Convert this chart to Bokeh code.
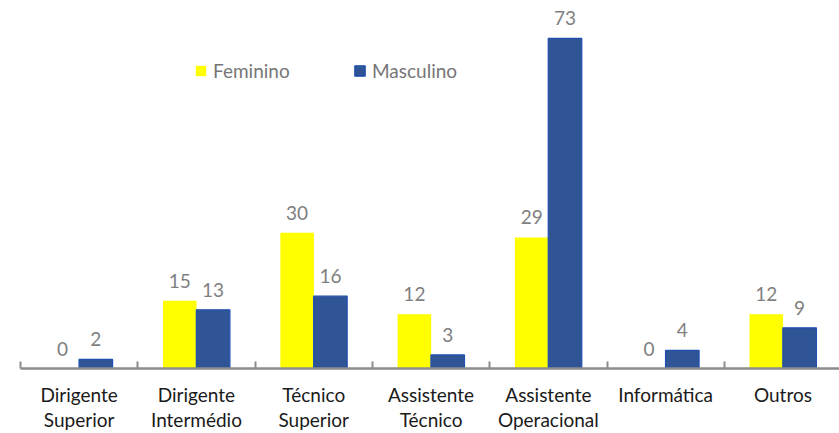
from bokeh.plotting import figure
from bokeh.models import (ColumnDataSource, Range1d, FixedTicker, Legend, LegendItem, LabelSet)
from bokeh.core.properties import value
from bokeh.embed import file_html
from bokeh.resources import INLINE

categories = ["Dirigente\nSuperior", "Dirigente\nIntermédio", "Técnico\nSuperior",
              "Assistente\nTécnico", "Assistente\nOperacional", "Informática", "Outros"]
feminino = [0, 15, 30, 12, 29, 0, 12]
masculino = [2, 13, 16, 3, 73, 4, 9]

FONT = "Lato"
W, H = 839, 433
LEFT = 20
PX_PER_CAT = 117.3
BASE_Y = 368
PX_PER_UNIT = 4.521
BAR_W = 0.286
OFF = 0.142

n = len(categories)
centers = [i + 0.5 for i in range(n)]
bounds = [float(i) for i in range(n + 1)]

p = figure(width=W, height=H, output_backend="svg", toolbar_location=None,
           x_range=Range1d(0, (W - LEFT) / PX_PER_CAT),
           y_range=Range1d(0, BASE_Y / PX_PER_UNIT),
           min_border_left=LEFT, min_border_right=0, min_border_top=0,
           min_border_bottom=H - BASE_Y)
p.outline_line_color = None
p.xgrid.visible = False
p.ygrid.visible = False
p.yaxis.visible = False
p.background_fill_color = "white"
p.border_fill_color = "white"

src = ColumnDataSource(dict(
    xf=[c - OFF for c in centers], xm=[c + OFF for c in centers],
    f=feminino, m=masculino,
    ft=[str(v) for v in feminino], mt=[str(v) for v in masculino]))

rf = p.vbar(x="xf", top="f", width=BAR_W, source=src, fill_color="#FFFF00", line_color=None)
rm = p.vbar(x="xm", top="m", width=BAR_W, source=src, fill_color="#2F5597",
            line_color="#1F4FB0", line_width=1.2)

for xcol, ycol, tcol in (("xf", "f", "ft"), ("xm", "m", "mt")):
    p.add_layout(LabelSet(x=xcol, y=ycol, text=tcol, source=src, text_align="center",
                          text_baseline="alphabetic", y_offset=13, text_font=value(FONT),
                          text_font_size=value("19px"), text_color="#7F7F7F"))

ax = p.xaxis[0]
ax.ticker = FixedTicker(ticks=centers, minor_ticks=bounds)
ax.major_label_overrides = {c: lab for c, lab in zip(centers, categories)}
ax.major_tick_in = 0
ax.major_tick_out = 0
ax.minor_tick_in = 7
ax.minor_tick_out = 0
ax.minor_tick_line_color = "#8C8C8C"
ax.minor_tick_line_width = 2
ax.axis_line_color = "#8C8C8C"
ax.axis_line_width = 2.5
ax.major_label_standoff = 14
ax.major_label_text_font = FONT
ax.major_label_text_font_size = "19px"
ax.major_label_text_color = "#1A1A1A"
ax.major_label_text_line_height = 1.1

for item, loc in ((LegendItem(label="Feminino", renderers=[rf]), (174, 286)),
                  (LegendItem(label="Masculino", renderers=[rm]), (333, 286))):
    lg = Legend(items=[item], location=loc, orientation="horizontal",
                glyph_width=13, glyph_height=13, label_standoff=6, padding=0, margin=0,
                spacing=0, border_line_alpha=0, background_fill_alpha=0,
                label_text_font=FONT, label_text_font_size="19px",
                label_text_color="#767676")
    p.add_layout(lg)

open("out.html", "w").write(file_html(p, INLINE))
